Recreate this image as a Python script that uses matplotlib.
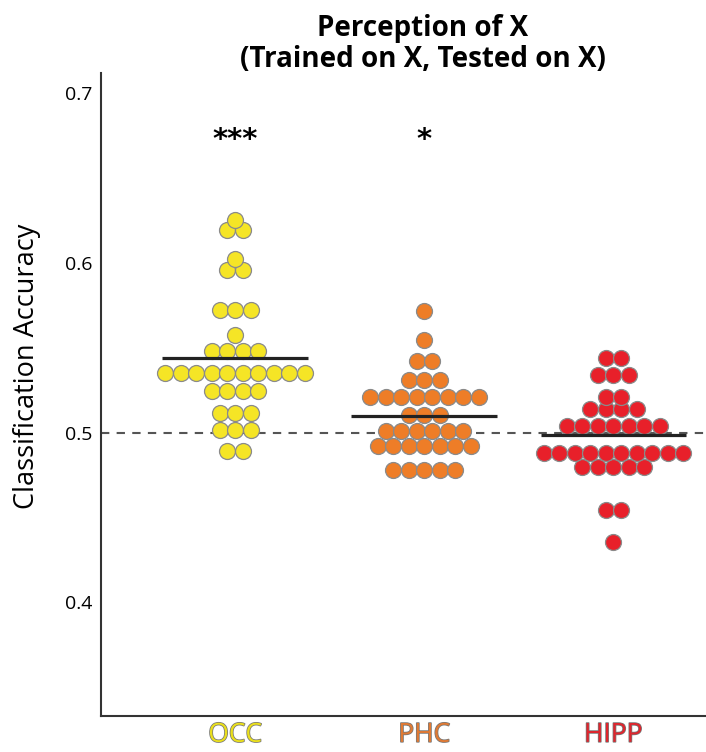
import numpy as np
import matplotlib.pyplot as plt
import matplotlib.patheffects as pe

plt.rcParams['font.family'] = ['Open Sans', 'DejaVu Sans']

# classification accuracy per subject, one list per region
occ = [0.6255, 0.6195, 0.6195, 0.6024, 0.596, 0.596,
       0.5725, 0.5725, 0.5725, 0.5578,
       0.5479, 0.5479, 0.5479, 0.5479,
       0.5352, 0.5352, 0.5352, 0.5352, 0.5352, 0.5352, 0.5352, 0.5352, 0.5352, 0.5352,
       0.5243, 0.5243, 0.5243, 0.5243,
       0.5116, 0.5116, 0.5116,
       0.5014, 0.5014, 0.5014,
       0.489, 0.489]
phc = [0.5715, 0.5548, 0.542, 0.542,
       0.5308, 0.5308, 0.5308,
       0.521, 0.521, 0.521, 0.521, 0.521, 0.521, 0.521, 0.521,
       0.5106, 0.5106, 0.5106,
       0.5008, 0.5008, 0.5008, 0.5008, 0.5008, 0.5008,
       0.4919, 0.4919, 0.4919, 0.4919, 0.4919, 0.4919, 0.4919,
       0.4782, 0.4782, 0.4782, 0.4782, 0.4782]
hipp = [0.544, 0.544, 0.5342, 0.5342, 0.5342,
        0.521, 0.521,
        0.5141, 0.5141, 0.5141, 0.5141,
        0.5041, 0.5041, 0.5041, 0.5041, 0.5041, 0.5041, 0.5041,
        0.488, 0.488, 0.488, 0.488, 0.488, 0.488, 0.488, 0.488, 0.488, 0.488,
        0.4796, 0.4796, 0.4796, 0.4796, 0.4796,
        0.4546, 0.4546, 0.4356]

regions = ['OCC', 'PHC', 'HIPP']
groups = [occ, phc, hipp]
dot_colors = ['#f5e526', '#ee7d27', '#e8202a']
label_colors = ['#eadf1c', '#e07a34', '#e0252d']
stars = ['***', '*', '']
chance = 0.5

fig = plt.figure(figsize=(7.06, 7.52), dpi=100)
ax = fig.add_axes([0.143, 0.048, 0.857, 0.855])

step = 0.082  # horizontal spacing between dots in a row
for i, (vals, col) in enumerate(zip(groups, dot_colors)):
    vals = np.array(vals)
    xs, ys = [], []
    for v in np.unique(vals):
        n = np.sum(vals == v)
        offs = (np.arange(n) - (n - 1) / 2) * step
        xs.extend(i + offs)
        ys.extend([v] * n)
    ax.scatter(xs, ys, s=132, color=col, edgecolor='#8a8a8a', linewidth=0.9, zorder=3)
    ax.hlines(vals.mean(), i - 0.385, i + 0.385, color='#222222', linewidth=2.3, zorder=4)
    if stars[i]:
        ax.text(i, 0.6727, stars[i], ha='center', va='center', fontsize=21,
                fontweight='bold', family='DejaVu Sans')

ax.axhline(chance, color='#555555', linestyle=(0, (4, 3.5)), linewidth=1.5, zorder=2)

ax.set_xlim(-0.71, 2.49)
ax.set_ylim(0.333, 0.712)
ax.set_yticks([0.4, 0.5, 0.6, 0.7])
ax.set_yticklabels(['0.4', '0.5', '0.6', '0.7'], fontsize=14)
ax.set_xticks(range(3))
ax.set_xticklabels(regions, fontsize=19)
for lab, c in zip(ax.get_xticklabels(), label_colors):
    lab.set_color(c)
    lab.set_path_effects([pe.Stroke(linewidth=1.1, foreground='#777777'), pe.Normal()])
ax.tick_params(length=0, pad=6)
ax.tick_params(axis='x', pad=5)
ax.set_ylabel('Classification Accuracy', fontsize=19.5, labelpad=12)
ax.yaxis.set_label_coords(-0.099, 0.543)

for s in ['top', 'right']:
    ax.spines[s].set_visible(False)
for s in ['left', 'bottom']:
    ax.spines[s].set_color('#333333')
    ax.spines[s].set_linewidth(1.5)

fig.text(0.599, 0.982, 'Perception of X\n(Trained on X, Tested on X)', ha='center', va='top',
         fontsize=20, fontweight='bold', linespacing=1.1)

fig.savefig('out.png', dpi=100)
